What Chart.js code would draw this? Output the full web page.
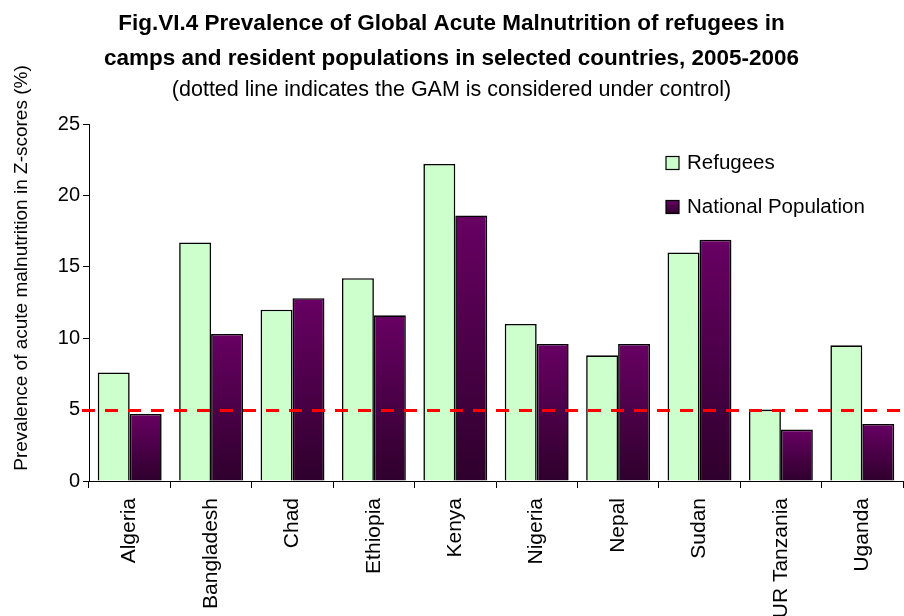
<!DOCTYPE html>
<html>
<head>
<meta charset="utf-8">
<script src="https://cdn.jsdelivr.net/npm/chart.js@4.4.1/dist/chart.umd.min.js"></script>
<style>
  html, body { margin: 0; padding: 0; background: #fff; overflow: hidden; }
  #wrap { width: 904px; height: 616px; }
</style>
</head>
<body>
<div id="wrap"><canvas id="gam_chart"></canvas></div>
<script>
const countries = ["Algeria", "Bangladesh", "Chad", "Ethiopia", "Kenya", "Nigeria", "Nepal", "Sudan", "UR Tanzania", "Uganda"];
const refugees = [7.6, 16.7, 12.0, 14.2, 22.2, 11.0, 8.8, 16.0, 5.0, 9.5];
const nationalPop = [4.7, 10.3, 12.8, 11.6, 18.6, 9.6, 9.6, 16.9, 3.6, 4.0];
const yTicks = [0, 5, 10, 15, 20, 25];
const threshold = 5;
const yTitle = "Prevalence of acute malnutrition in Z-scores (%)";

const ctx = document.getElementById("gam_chart");
const fontName = "'Liberation Sans', Arial, sans-serif";

// purple bars fade from dark at the base to purple at the top
function purpleFill(context) {
  const chart = context.chart;
  if (!chart.chartArea || context.parsed === undefined) return "#4d004a";
  const y = chart.scales.y;
  const top = y.getPixelForValue(context.parsed.y);
  const base = y.getPixelForValue(0);
  if (!isFinite(top) || top === base) return "#4d004a";
  const g = chart.ctx.createLinearGradient(0, base, 0, top);
  g.addColorStop(0, "#2e002c");
  g.addColorStop(1, "#680063");
  return g;
}

const thresholdLine = {
  id: "thresholdLine",
  afterDatasetsDraw(chart) {
    const c = chart.ctx;
    const area = chart.chartArea;
    const py = chart.scales.y.getPixelForValue(threshold) + 1;
    c.save();
    c.strokeStyle = "#ff0000";
    c.lineWidth = 3;
    c.setLineDash([13, 10]);
    c.beginPath();
    c.moveTo(area.left - 7, py);
    c.lineTo(area.right, py);
    c.stroke();
    c.restore();
  },
};

// legend sits inside the plot, top right, and the y title is set a bit high like the original
const extras = {
  id: "extras",
  afterDraw(chart) {
    const c = chart.ctx;
    const x = 666, rows = [163, 207];
    c.save();
    c.font = "20.5px " + fontName;
    c.textBaseline = "middle";
    chart.data.datasets.forEach((ds, i) => {
      const y = rows[i];
      if (i === 0) {
        c.fillStyle = "#ccffcc";
      } else {
        const g = c.createLinearGradient(0, y + 7, 0, y - 7);
        g.addColorStop(0, "#2e002c");
        g.addColorStop(1, "#680063");
        c.fillStyle = g;
      }
      c.fillRect(x, y - 6.5, 13, 13);
      c.strokeStyle = "#000";
      c.lineWidth = 1.2;
      c.strokeRect(x, y - 6.5, 13, 13);
      c.fillStyle = "#000";
      c.fillText(ds.label, x + 21, y);
    });

    c.translate(22, 268);
    c.rotate(-Math.PI / 2);
    c.font = "19px " + fontName;
    c.textAlign = "center";
    c.fillText(yTitle, 0, 0);
    c.restore();
  },
};

new Chart(ctx, {
  type: "bar",
  data: {
    labels: countries,
    datasets: [
      {
        label: "Refugees",
        data: refugees,
        backgroundColor: "#ccffcc",
        borderColor: "#000",
        borderWidth: 1.6,
      },
      {
        label: "National Population",
        data: nationalPop,
        backgroundColor: purpleFill,
        borderColor: "#000",
        borderWidth: 1.6,
      },
    ],
  },
  options: {
    responsive: true,
    maintainAspectRatio: false,
    animation: false,
    devicePixelRatio: 1,
    layout: { padding: { left: 0, right: 1, top: 0, bottom: 0 } },
    datasets: {
      bar: { categoryPercentage: 0.785, barPercentage: 1.0 },
    },
    plugins: {
      legend: { display: false },
      tooltip: { enabled: false },
      title: {
        display: true,
        text: [
          "Fig.VI.4 Prevalence of Global Acute Malnutrition of refugees in",
          "camps and resident populations in selected countries, 2005-2006",
        ],
        color: "#000",
        font: { family: fontName, size: 22.5, weight: "bold", lineHeight: 1.56 },
        padding: { top: 6, bottom: 0 },
      },
      subtitle: {
        display: true,
        text: "(dotted line indicates the GAM is considered under control)",
        color: "#000",
        font: { family: fontName, size: 21.5, lineHeight: 1.2 },
        padding: { top: 1, bottom: 21 },
      },
    },
    scales: {
      x: {
        grid: {
          display: true,
          drawOnChartArea: false,
          offset: true,
          tickLength: 7,
          color: "#000",
        },
        border: { display: true, color: "#000", width: 1 },
        ticks: {
          color: "#000",
          font: { family: fontName, size: 21 },
          minRotation: 90,
          maxRotation: 90,
          autoSkip: false,
          padding: 10,
        },
        afterFit(scale) {
          scale.height = 135;
        },
      },
      y: {
        min: 0,
        max: 25,
        afterBuildTicks(scale) {
          scale.ticks = yTicks.map((v) => ({ value: v }));
        },
        grid: {
          display: true,
          drawOnChartArea: false,
          tickLength: 6,
          color: "#000",
        },
        border: { display: true, color: "#000", width: 1 },
        ticks: {
          color: "#000",
          font: { family: fontName, size: 20 },
          padding: 3,
        },
        afterFit(scale) {
          scale.width = 89;
        },
      },
    },
  },
  plugins: [thresholdLine, extras],
});
</script>
</body>
</html>
